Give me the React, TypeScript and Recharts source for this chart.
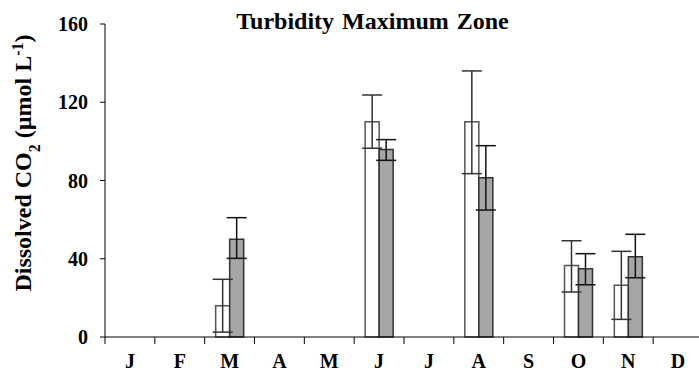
import React from 'react';
import { BarChart, Bar, XAxis, YAxis, ErrorBar, Label } from 'recharts';

// Monthly dissolved CO2, two sampling series per month
const months = ['J', 'F', 'M', 'A', 'M', 'J', 'J', 'A', 'S', 'O', 'N', 'D'];
const seriesA = [null, null, 16, null, null, 110, null, 110, null, 36.5, 26.5, null];
const seriesALow = [null, null, 2.5, null, null, 96.5, null, 83.5, null, 23, 9, null];
const seriesAHigh = [null, null, 29.5, null, null, 123.7, null, 136, null, 49.2, 43.8, null];
const seriesB = [null, null, 50, null, null, 95.8, null, 81.4, null, 34.9, 41, null];
const seriesBLow = [null, null, 40.2, null, null, 90.3, null, 64.9, null, 26.7, 30.3, null];
const seriesBHigh = [null, null, 61, null, null, 100.9, null, 97.8, null, 42.6, 52.5, null];
const yTicks = [0, 40, 80, 120, 160];

const data = months.map((m, i) => ({
  idx: i,
  a: seriesA[i],
  aErr: seriesA[i] == null ? null : [seriesA[i]! - seriesALow[i]!, seriesAHigh[i]! - seriesA[i]!],
  b: seriesB[i],
  bErr: seriesB[i] == null ? null : [seriesB[i]! - seriesBLow[i]!, seriesBHigh[i]! - seriesB[i]!],
}));

const W = 710;
const H = 373;
const Y_W = 105;
const X_H = 36;
const M = { top: 24, right: 7, bottom: 0, left: 0 };
const BAND = (W - Y_W - M.right) / months.length;
const X_TICK = 7;
const X_MARGIN = 2;
const FONT = '"Liberation Serif", "DejaVu Serif", serif';

const MonthTick = (props: any) => {
  const { x, y, payload, index } = props;
  const axisY = y - X_TICK - X_MARGIN;
  const left = x - BAND / 2;
  return (
    <g>
      <line x1={left} y1={axisY} x2={left} y2={axisY + X_TICK} stroke="#000" strokeWidth={1} />
      {index === months.length - 1 && (
        <line x1={x + BAND / 2} y1={axisY} x2={x + BAND / 2} y2={axisY + X_TICK} stroke="#000" strokeWidth={1} />
      )}
      <text x={x} y={axisY + 31} textAnchor="middle" fontFamily={FONT} fontWeight="bold" fontSize={20} fill="#000">
        {months[payload.value]}
      </text>
    </g>
  );
};

const YTitle = () => {
  const cx = 31;
  const cy = 163;
  return (
    <text
      transform={`rotate(-90, ${cx}, ${cy})`}
      x={cx}
      y={cy}
      textAnchor="middle"
      fontFamily={FONT}
      fontWeight="bold"
      fontSize={24}
      fill="#000"
    >
      Dissolved CO
      <tspan fontSize={16} baselineShift="sub">2</tspan>
      <tspan> (µmol L</tspan>
      <tspan fontSize={16} baselineShift="super">-1</tspan>
      <tspan>)</tspan>
    </text>
  );
};

export default function App() {
  return (
    <div style={{ position: 'absolute', left: 0, top: 0, width: 699, height: H, overflow: 'hidden', background: '#fff' }}>
      <BarChart width={W} height={H} data={data} margin={M} barSize={14} barGap={0}>
        <XAxis
          dataKey="idx"
          type="category"
          axisLine={{ stroke: '#000' }}
          tickLine={false}
          tickSize={X_TICK}
          tickMargin={X_MARGIN}
          tick={<MonthTick />}
          interval={0}
          height={X_H}
        />
        <YAxis
          domain={[0, 160]}
          ticks={yTicks}
          axisLine={{ stroke: '#000' }}
          tickLine={{ stroke: '#000' }}
          tickSize={5}
          tickMargin={12}
          width={Y_W}
          tick={{ fill: '#000', fontFamily: FONT, fontWeight: 'bold', fontSize: 20 }}
        >
          <Label content={<YTitle />} />
        </YAxis>
        <Bar dataKey="a" fill="#ffffff" stroke="#555" strokeWidth={1.5} isAnimationActive={false}>
          <ErrorBar dataKey="aErr" width={10} stroke="#333" strokeWidth={1.5} direction="y" />
        </Bar>
        <Bar dataKey="b" fill="#a6a6a6" stroke="#333" strokeWidth={1.5} isAnimationActive={false}>
          <ErrorBar dataKey="bErr" width={10} stroke="#111" strokeWidth={1.5} direction="y" />
        </Bar>
      </BarChart>
      <div
        style={{
          position: 'absolute',
          left: 0,
          width: 745,
          top: 9,
          lineHeight: '24px',
          textAlign: 'center',
          fontFamily: FONT,
          fontWeight: 'bold',
          fontSize: 24,
          wordSpacing: 2,
          color: '#000',
        }}
      >
        Turbidity Maximum Zone
      </div>
    </div>
  );
}
